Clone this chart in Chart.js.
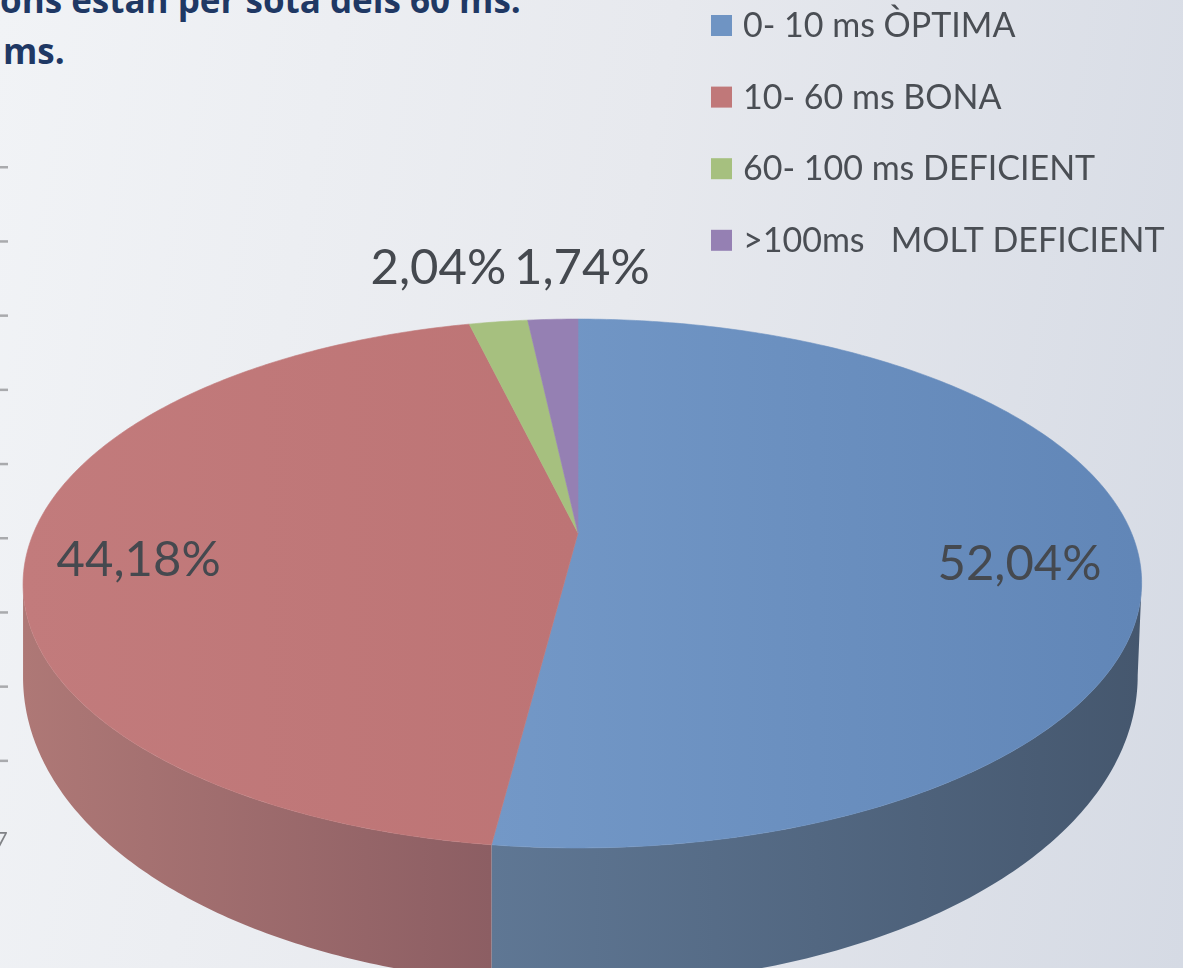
<!DOCTYPE html>
<html>
<head>
<meta charset="utf-8">
<title>Latència</title>
<script src="https://cdn.jsdelivr.net/npm/chart.js@4"></script>
<style>
    html, body { margin: 0; padding: 0; width: 1183px; height: 968px; overflow: hidden; }
    body { position: relative; background: linear-gradient(100deg, #f1f3f6 0%, #e7e9ee 50%, #d5dae4 100%); }
    canvas { position: absolute; left: 0; top: 0; }
    .heading { position: absolute; white-space: nowrap; font: bold 35px "Open Sans", sans-serif; color: #1f3864; line-height: 1; }
</style>
</head>
<body>
<div class="heading" style="left:0; top:-18px;">ons estan per sota dels 60 ms.</div>
<div class="heading" style="left:3px; top:33px;">ms.</div>
<canvas id="pieChart" width="1183" height="968"></canvas>
<script>
const categories = ['0- 10 ms ÒPTIMA', '10- 60 ms BONA', '60- 100 ms DEFICIENT', '>100ms   MOLT DEFICIENT'];
const percentages = [52.04, 44.18, 2.04, 1.74];
const sliceColors = ['#6f94c3', '#c07879', '#a6c07f', '#9580b3'];

// left end / right end colours of each slice, top face and side wall
const topShades = [['#7398c7', '#6186b7'], ['#c27b7c', '#bd7475'], ['#a6c07f', '#a6c07f'], ['#9580b3', '#9580b3']];
const wallShades = [['#5f7794', '#45576e'], ['#ae7876', '#8c5e63'], ['#7f9360', '#7f9360'], ['#705f88', '#705f88']];

// label placement: fraction of radius, then a nudge in px
const labelRadius = [0.8, 0.8, 1, 1];
const labelNudge = [[-4, 18], [0, 16], [-60, -54], [29, -51]];

// the neighbouring chart's axis marks, cut off at the left edge
const strayTicks = 9;

// tilted disc: unit circle to screen, with perspective
const apexX = 578, apexY = 533, spanX = 549, spanY = 254.8, tilt = 0.191;
function project(u, v) {
    const w = 1 - tilt * v;
    return { x: apexX + spanX * u / w + 4.5 * u * u, y: apexY + spanY * v / w };
}
function wallDepth(v) {
    return 82 + 55 * v;
}

const tiltedPie = {
    id: 'tiltedPie',
    beforeDatasetDraw(chart) {
        const ctx = chart.ctx;
        const arcs = chart.getDatasetMeta(0).data;
        ctx.save();

        // side walls first
        arcs.forEach((arc, i) => {
            const from = Math.max(arc.startAngle, 0.19);
            const to = Math.min(arc.endAngle, Math.PI - 0.19);
            if (to <= from) return;
            const rim = [];
            for (let s = 0; s <= 120; s++) {
                const a = from + (to - from) * s / 120;
                const p = project(Math.cos(a), Math.sin(a));
                p.d = wallDepth(Math.sin(a));
                p.shift = 4 * Math.max(Math.cos(a), 0);
                rim.push(p);
            }
            const xs = rim.map(p => p.x);
            const g = ctx.createLinearGradient(Math.min(...xs), 0, Math.max(...xs), 0);
            g.addColorStop(0, wallShades[i][0]);
            g.addColorStop(1, wallShades[i][1]);
            ctx.fillStyle = g;
            ctx.beginPath();
            rim.forEach((p, s) => s ? ctx.lineTo(p.x, p.y) : ctx.moveTo(p.x, p.y));
            rim.slice().reverse().forEach(p => ctx.lineTo(p.x - p.shift, p.y + p.d));
            ctx.closePath();
            ctx.fill();
        });

        // top face
        arcs.forEach((arc, i) => {
            const sweep = arc.endAngle - arc.startAngle;
            const steps = Math.ceil(sweep * 80);
            const pts = [];
            for (let s = 0; s <= steps; s++) {
                const a = arc.startAngle + sweep * s / steps;
                pts.push(project(Math.cos(a), Math.sin(a)));
            }
            const xs = pts.map(p => p.x);
            const g = ctx.createLinearGradient(Math.min(apexX, ...xs), 0, Math.max(apexX, ...xs), 0);
            g.addColorStop(0, topShades[i][0]);
            g.addColorStop(1, topShades[i][1]);
            ctx.fillStyle = g;
            ctx.strokeStyle = g;
            ctx.lineWidth = 0.6;
            ctx.beginPath();
            ctx.moveTo(apexX, apexY);
            pts.forEach(p => ctx.lineTo(p.x, p.y));
            ctx.closePath();
            ctx.fill();
            ctx.stroke();
        });

        // percentage labels
        ctx.font = '49px Lato, sans-serif';
        ctx.fillStyle = '#45494f';
        ctx.textAlign = 'center';
        ctx.textBaseline = 'middle';
        arcs.forEach((arc, i) => {
            const a = (arc.startAngle + arc.endAngle) / 2;
            const p = project(labelRadius[i] * Math.cos(a), labelRadius[i] * Math.sin(a));
            const text = percentages[i].toFixed(2).replace('.', ',') + '%';
            ctx.fillText(text, p.x + labelNudge[i][0], p.y + labelNudge[i][1]);
        });
        ctx.restore();
        return false; // the arcs themselves are replaced by the tilted version
    },
    afterDraw(chart) {
        const ctx = chart.ctx;
        ctx.save();

        // legend
        ctx.font = '34px Lato, sans-serif';
        ctx.textBaseline = 'middle';
        ctx.textAlign = 'left';
        chart.data.labels.forEach((label, i) => {
            const y = 26 + i * 71.6;
            ctx.fillStyle = sliceColors[i];
            ctx.fillRect(711, y - 11, 21, 21);
            ctx.fillStyle = '#4a4e54';
            ctx.fillText(label, 743, y);
        });

        // stray marks on the left edge
        ctx.fillStyle = '#a9aaad';
        for (let i = 0; i < strayTicks; i++) {
            ctx.fillRect(0, 166 + i * 74.2, 8, 2.5);
        }
        ctx.font = '22px Lato, sans-serif';
        ctx.fillStyle = '#808286';
        ctx.fillText('7', -5, 840);
        ctx.restore();
    }
};

new Chart(document.getElementById('pieChart').getContext('2d'), {
    type: 'pie',
    data: {
        labels: categories,
        datasets: [{ data: percentages, backgroundColor: sliceColors, borderWidth: 0 }]
    },
    options: {
        responsive: false,
        animation: false,
        events: [],
        plugins: { legend: { display: false }, tooltip: { enabled: false } }
    },
    plugins: [tiltedPie]
});
</script>
</body>
</html>
